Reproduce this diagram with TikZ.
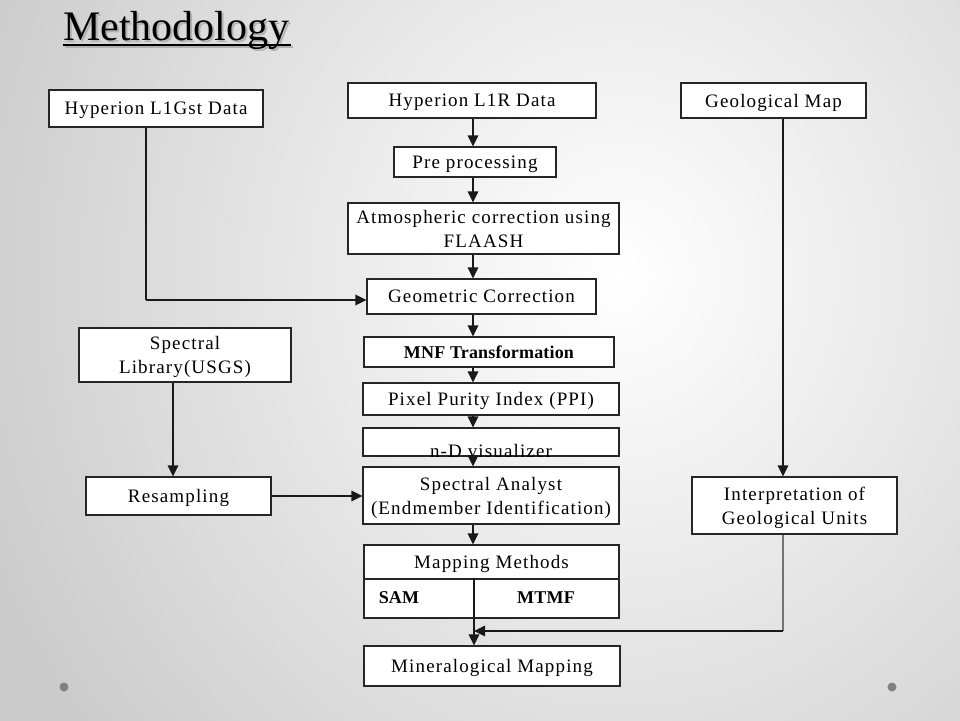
\documentclass[tikz,border=0pt]{standalone}
\usepackage{fontspec}
\setmainfont{Liberation Serif}
\newfontfamily\boxfont{Liberation Serif}[LetterSpace=6]
\newfontfamily\boxbold{Liberation Serif}[LetterSpace=1]
\usetikzlibrary{arrows.meta}
\begin{document}
\begin{tikzpicture}[x=1pt,y=-1pt,
  box/.style={draw=black!85, line width=1.1pt, fill=white, inner sep=0pt, align=center,
              text depth=0pt, font=\boxfont\fontsize{19}{24}\selectfont},
  boldtxt/.style={font=\boxbold\bfseries\fontsize{18}{22}\selectfont, inner sep=0pt},
  ln/.style={line width=1.4pt, draw=black!90},
  arr/.style={ln, -{Triangle[length=11pt,width=10.5pt]}},
  dot/.style={fill=black!50}]
\useasboundingbox (0,0) rectangle (960,720);
% background
\begin{scope}
  \clip (0,0) rectangle (960,720);
  \fill[white] (0,0) rectangle (960,720);
  \shade[inner color=white, outer color=black!20] (-60,-450) rectangle (1300,1000);
\end{scope}
% title
\node[anchor=base west, inner sep=0pt, text=black!30, font=\fontsize{42}{50}\selectfont] (titleshadow) at (65,42) {Methodology};
\draw[line width=2.3pt, black!30] (65,47) -- (293,47);
\node[anchor=base west, inner sep=0pt, font=\fontsize{42}{50}\selectfont] (title) at (63,40) {Methodology};
\draw[line width=2.3pt] (title.base west |- 0,45) -- (291,45);
% boxes
\node[box, minimum width=214pt, minimum height=37pt] (l1gst) at (156,108.5) {Hyperion L1Gst Data};
\node[box, minimum width=248pt, minimum height=35pt] (l1r) at (472,100.5) {Hyperion L1R Data};
\node[box, minimum width=185pt, minimum height=35pt] (geomap) at (773.5,100.5) {Geological Map};
\node[box, minimum width=162pt, minimum height=30pt] (pre) at (475,162) {Pre processing};
\node[box, minimum width=271pt, minimum height=51pt] (atm) at (483.5,228.5) {Atmospheric correction using\\FLAASH};
\node[box, minimum width=229pt, minimum height=35pt] (geocorr) at (481.5,296.5) {Geometric Correction};
\node[box, minimum width=250pt, minimum height=30pt] (mnf) at (489,352) {};
\node[boldtxt, text depth=0pt] (mnftext) at (mnf.center) {MNF Transformation};
\node[box, minimum width=256pt, minimum height=32pt] (ppi) at (491,399) {Pixel Purity Index (PPI)};
\node[box, minimum width=256pt, minimum height=28pt] (nd) at (491,442) {};
\begin{scope}
  \clip (nd.south west) rectangle (nd.north east);
  \node[anchor=base, inner sep=0pt, font=\boxfont\fontsize{19}{24}\selectfont] (ndtext) at (491,457) {n-D visualizer};
\end{scope}
\node[box, minimum width=256pt, minimum height=57pt] (sa) at (491,495.5) {Spectral Analyst\\(Endmember Identification)};
\node[box, minimum width=255pt, minimum height=34pt] (mmtop) at (491.5,562) {Mapping Methods};
\node[box, minimum width=255pt, minimum height=39pt] (mmbot) at (491.5,598.5) {};
\node[boldtxt, text depth=0pt] (sam) at (399,598) {SAM};
\node[boldtxt, text depth=0pt] (mtmf) at (546,598) {MTMF};
\node[box, minimum width=256pt, minimum height=40pt] (minmap) at (492,666) {Mineralogical Mapping};
\node[box, minimum width=212pt, minimum height=54pt] (speclib) at (185,355) {Spectral\\Library(USGS)};
\node[box, minimum width=185pt, minimum height=38pt] (resamp) at (178.5,496) {Resampling};
\node[box, minimum width=205pt, minimum height=57pt] (interp) at (794.5,505.5) {Interpretation of\\Geological Units};
% helper coordinates
\coordinate (col) at (473,0);
\coordinate (gst) at (146,300);
\coordinate (slx) at (173,0);
\coordinate (gx) at (783,0);
\coordinate (join) at (474,631);
% connectors
\draw[arr] (l1r.south -| col) -- (pre.north -| col);
\draw[arr] (pre.south -| col) -- (atm.north -| col);
\draw[arr] (atm.south -| col) -- (geocorr.north -| col);
\draw[arr] (geocorr.south -| col) -- (mnf.north -| col);
\draw[arr] (mnf.south -| col) -- (ppi.north -| col);
\draw[arr] (ppi.south -| col) -- (nd.north -| col);
\draw[arr] (nd.south -| col) -- (sa.north -| col);
\draw[arr] (sa.south -| col) -- (mmtop.north -| col);
\draw[ln, line width=1.1pt] (mmbot.north -| join) -- (mmbot.south -| join);
\draw[arr] (mmbot.south -| join) -- (minmap.north -| join);
\draw[ln] (l1gst.south -| gst) -- (gst);
\draw[arr] (gst) -- (gst -| geocorr.west);
\draw[arr] (speclib.south -| slx) -- (resamp.north -| slx);
\draw[arr] (resamp.east) -- (resamp.east -| sa.west);
\draw[arr] (geomap.south -| gx) -- (interp.north -| gx);
\draw[ln, draw=black!55] (interp.south -| gx) -- (gx |- join);
\draw[arr] (gx |- join) -- (join);
% slide dots
\fill[dot] (64,687) circle (4.5pt);
\fill[dot] (892,687) circle (4.5pt);
\end{tikzpicture}
\end{document}
